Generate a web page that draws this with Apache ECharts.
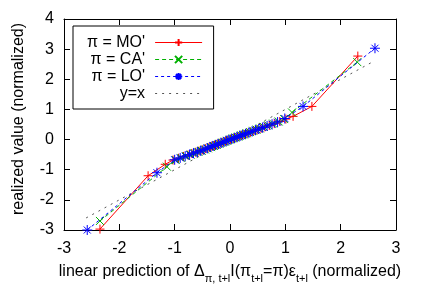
<!DOCTYPE html>
<html><head><meta charset="utf-8">
<script src="https://cdn.jsdelivr.net/npm/echarts@6/dist/echarts.min.js"></script>
<style>html,body{margin:0;padding:0;background:#fff}#c{width:424px;height:297px}</style>
</head><body><div id="c"></div>
<script>
// ---- data ----
const moX = [-2.35,-1.48,-1.17,-1.03,-0.93,-0.84,-0.76,-0.69,-0.62,-0.56,-0.50,-0.44,-0.38,-0.33,-0.28,-0.23,-0.18,-0.13,-0.08,-0.04,0.01,0.06,0.11,0.16,0.21,0.26,0.31,0.37,0.43,0.49,0.56,0.63,0.71,0.80,0.90,1.01,1.14,1.48,2.31];
const moY = [-2.97,-1.20,-0.82,-0.68,-0.62,-0.56,-0.51,-0.46,-0.42,-0.38,-0.34,-0.30,-0.26,-0.22,-0.19,-0.15,-0.12,-0.09,-0.05,-0.02,0.01,0.04,0.07,0.10,0.14,0.17,0.21,0.25,0.29,0.33,0.37,0.42,0.47,0.53,0.60,0.68,0.77,1.10,2.77];
const caX = [-2.35,-1.14,-0.98,-0.88,-0.79,-0.71,-0.64,-0.57,-0.51,-0.45,-0.40,-0.34,-0.29,-0.24,-0.19,-0.14,-0.09,-0.05,0.00,0.05,0.10,0.15,0.20,0.25,0.30,0.36,0.42,0.48,0.54,0.61,0.69,0.78,0.88,0.98,1.12,2.30];
const caY = [-2.70,-0.90,-0.68,-0.61,-0.55,-0.50,-0.45,-0.41,-0.37,-0.33,-0.29,-0.25,-0.21,-0.18,-0.14,-0.10,-0.07,-0.04,0.00,0.04,0.07,0.10,0.14,0.17,0.21,0.25,0.29,0.33,0.37,0.42,0.47,0.53,0.60,0.68,0.90,2.57];
const loX = [-2.58,-1.32,-1.00,-0.90,-0.81,-0.73,-0.66,-0.59,-0.53,-0.47,-0.41,-0.36,-0.31,-0.26,-0.21,-0.16,-0.11,-0.06,-0.02,0.03,0.08,0.13,0.18,0.23,0.28,0.34,0.40,0.46,0.52,0.59,0.67,0.76,0.86,0.99,1.32,2.62];
const loY = [-3.00,-1.10,-0.67,-0.61,-0.55,-0.50,-0.45,-0.41,-0.37,-0.33,-0.29,-0.25,-0.21,-0.18,-0.15,-0.11,-0.08,-0.04,-0.01,0.02,0.05,0.09,0.12,0.16,0.19,0.23,0.27,0.31,0.35,0.40,0.45,0.51,0.58,0.70,1.10,3.03];
const refX = [-2.6, 2.6];
const refY = [-2.6, 2.6];
const seriesNames = ["\u03c0 = MO'", "\u03c0 = CA'", "\u03c0 = LO'", "y=x"];
const xTicks = {min: -3, max: 3, interval: 1};
const yTicks = {min: -3, max: 4, interval: 1};

const zip = (a, b) => a.map((v, i) => [v, b[i]]);
const FONT = 'Liberation Sans, Arial, Helvetica, sans-serif';
const plusPath = 'path://M0,5L10,5M5,0L5,10';
const crossPath = 'path://M0,0L10,10M0,10L10,0';
const starPath = 'path://M0,5L10,5M5,0L5,10M1.5,1.5L8.5,8.5M1.5,8.5L8.5,1.5';

function axisCommon(show, margin) {
  return {
    axisLine: {show: true, onZero: false, lineStyle: {color: '#000', width: 1}},
    axisTick: {show: true, inside: true, length: 6, lineStyle: {color: '#000'}},
    axisLabel: {show: show, color: '#000', fontSize: 16, fontFamily: FONT, margin: margin || 9},
    splitLine: {show: false}
  };
}

const chart = echarts.init(document.getElementById('c'), null, {renderer: 'canvas'});
chart.setOption({
  animation: false,
  backgroundColor: '#fff',
  grid: {left: 64, right: 28, top: 19, bottom: 67, containLabel: false},
  xAxis: [
    Object.assign({type: 'value', position: 'bottom', min: xTicks.min, max: xTicks.max, interval: xTicks.interval,
      name: '{n|linear prediction of \u0394}{s|\u03c0, t+l}{n|I(\u03c0}{s|t+l}{n|=\u03c0)\u03b5}{s|t+l}{n| (normalized)}',
      nameLocation: 'middle', nameGap: 32,
      nameTextStyle: {rich: {
        n: {fontSize: 16, fontFamily: FONT, color: '#000', verticalAlign: 'bottom', lineHeight: 18},
        s: {fontSize: 11, fontFamily: FONT, color: '#000', verticalAlign: 'bottom', lineHeight: 18, padding: [0,0,-4,0]}
      }}
    }, axisCommon(true, 11)),
    Object.assign({type: 'value', position: 'top', min: xTicks.min, max: xTicks.max, interval: xTicks.interval}, axisCommon(false))
  ],
  yAxis: [
    Object.assign({type: 'value', position: 'left', min: yTicks.min, max: yTicks.max, interval: yTicks.interval,
      name: 'realized value (normalized)', nameLocation: 'middle', nameGap: 37,
      nameTextStyle: {fontSize: 16, fontFamily: FONT, color: '#000', padding: [0, 0, 0, 11]}
    }, axisCommon(true, 10)),
    Object.assign({type: 'value', position: 'right', min: yTicks.min, max: yTicks.max, interval: yTicks.interval}, axisCommon(false))
  ],
  legend: {
    orient: 'vertical', left: 73, top: 26, align: 'right',
    itemWidth: 47, itemHeight: 9, itemGap: 0,
    padding: [8, 11, 7, 14],
    borderColor: '#000', borderWidth: 1, backgroundColor: '#fff',
    lineStyle: {width: 1},
    textStyle: {fontSize: 16, lineHeight: 17, fontFamily: FONT, color: '#000', padding: [0, 5, 0, 0]},
    data: [
      {name: seriesNames[0]},
      {name: seriesNames[1]},
      {name: seriesNames[2]},
      {name: seriesNames[3], itemStyle: {color: 'rgba(0,0,0,0)', borderColor: 'rgba(0,0,0,0)', borderWidth: 0}}
    ]
  },
  series: [
    {name: seriesNames[0], type: 'line', data: zip(moX, moY), symbol: plusPath, symbolSize: 9, showAllSymbol: true,
      lineStyle: {color: '#ff0000', width: 1}, itemStyle: {color: 'rgba(0,0,0,0)', borderColor: '#ff0000', borderWidth: 1}, z: 3},
    {name: seriesNames[1], type: 'line', data: zip(caX, caY), symbol: crossPath, symbolSize: 8, showAllSymbol: true,
      lineStyle: {color: '#00b000', width: 1, type: [4, 3]}, itemStyle: {color: 'rgba(0,0,0,0)', borderColor: '#00b000', borderWidth: 1}, z: 4},
    {name: seriesNames[2], type: 'line', data: zip(loX, loY), symbol: starPath, symbolSize: 10, showAllSymbol: true,
      lineStyle: {color: '#0000ff', width: 1, type: [3, 3]}, itemStyle: {color: 'rgba(0,0,0,0)', borderColor: '#0000ff', borderWidth: 1}, z: 5},
    {name: seriesNames[3], type: 'line', data: zip(refX, refY), symbol: 'none',
      lineStyle: {color: '#555', width: 1, type: [2, 5]}, itemStyle: {color: '#555'}, z: 2}
  ]
});
</script></body></html>
